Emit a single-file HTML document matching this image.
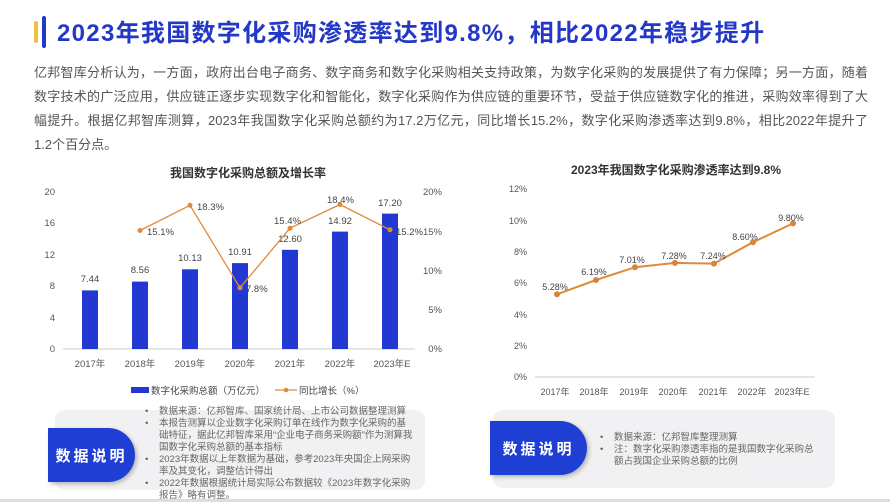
<!DOCTYPE html>
<html><head><meta charset="utf-8"><style>
*{margin:0;padding:0;box-sizing:border-box}
body{width:890px;height:502px;background:#fff;font-family:"Liberation Sans","Noto Sans CJK SC",sans-serif;position:relative;overflow:hidden}
.title{position:absolute;left:57px;top:13px;font-size:24px;font-weight:bold;color:#2338c6;white-space:nowrap;letter-spacing:1.3px}
.bar1{position:absolute;left:34px;top:21px;width:4px;height:22px;background:#f0c040;border-radius:2px}
.bar2{position:absolute;left:42px;top:16px;width:4px;height:32px;background:#2338c6;border-radius:2px}
.para{position:absolute;left:34px;top:61px;width:834px;font-size:13px;line-height:24px;color:#555}
.para div{text-align:justify;text-align-last:justify;white-space:nowrap}
.para div.last{text-align-last:left}
.grey{position:absolute;background:#f1f1f3;border-radius:10px}
.tab{position:absolute;background:#1f3fd4;color:#fff;font-weight:bold;font-size:15px;letter-spacing:3px;display:flex;align-items:center;justify-content:center;border-radius:0 28px 28px 0;box-shadow:2px 2px 4px rgba(0,0,0,.25)}
.notes{position:absolute;font-size:9.5px;line-height:12px;color:#666}
.notes div{padding-left:14px;text-indent:-14px}
.notes div:before{content:"•";display:inline-block;width:14px;text-indent:0}
</style></head><body>
<div class="bar1"></div><div class="bar2"></div>
<div class="title">2023年我国数字化采购渗透率达到9.8%，相比2022年稳步提升</div>
<div class="para">
<div>亿邦智库分析认为，一方面，政府出台电子商务、数字商务和数字化采购相关支持政策，为数字化采购的发展提供了有力保障；另一方面，随着</div>
<div>数字技术的广泛应用，供应链正逐步实现数字化和智能化，数字化采购作为供应链的重要环节，受益于供应链数字化的推进，采购效率得到了大</div>
<div>幅提升。根据亿邦智库测算，2023年我国数字化采购总额约为17.2万亿元，同比增长15.2%，数字化采购渗透率达到9.8%，相比2022年提升了</div>
<div class="last">1.2个百分点。</div>
</div>

<svg style="position:absolute;left:0;top:0" width="890" height="502" font-family="Liberation Sans, Noto Sans CJK SC, sans-serif">
<text x="248" y="177" font-size="12" font-weight="bold" fill="#333" text-anchor="middle">我国数字化采购总额及增长率</text>
<g font-size="9.5" fill="#555" text-anchor="end">
<text x="55" y="352">0</text><text x="55" y="321">4</text><text x="55" y="289">8</text><text x="55" y="258">12</text><text x="55" y="226">16</text><text x="55" y="195">20</text>
</g>
<g font-size="9.5" fill="#555" text-anchor="end">
<text x="442" y="352">0%</text><text x="442" y="313">5%</text><text x="442" y="274">10%</text><text x="442" y="235">15%</text><text x="442" y="195">20%</text>
</g>
<line x1="63" y1="349" x2="415" y2="349" stroke="#ccc"/>
<g fill="#2338d0">
<rect x="82" y="290.4" width="16" height="58.6"/>
<rect x="132" y="281.6" width="16" height="67.4"/>
<rect x="182" y="269.3" width="16" height="79.7"/>
<rect x="232" y="263.1" width="16" height="85.9"/>
<rect x="282" y="249.8" width="16" height="99.2"/>
<rect x="332" y="231.6" width="16" height="117.4"/>
<rect x="382" y="213.6" width="16" height="135.4"/>
</g>
<g font-size="9.5" fill="#444" text-anchor="middle">
<text x="90" y="282">7.44</text><text x="140" y="273">8.56</text><text x="190" y="261">10.13</text><text x="240" y="255">10.91</text><text x="290" y="242">12.60</text><text x="340" y="224">14.92</text><text x="390" y="206">17.20</text>
</g>
<polyline points="140,230.5 190,205.3 240,287.8 290,228.2 340,204.5 390,229.8" fill="none" stroke="#e08a3c" stroke-width="1.3"/>
<g fill="#e08a3c"><circle cx="140" cy="230.5" r="2.5"/><circle cx="190" cy="205.3" r="2.5"/><circle cx="240" cy="287.8" r="2.5"/><circle cx="290" cy="228.2" r="2.5"/><circle cx="340" cy="204.5" r="2.5"/><circle cx="390" cy="229.8" r="2.5"/></g>
<g font-size="9.5" fill="#444">
<text x="147" y="235">15.1%</text><text x="197" y="210">18.3%</text><text x="246" y="292">7.8%</text><text x="274" y="224">15.4%</text><text x="327" y="203">18.4%</text><text x="396" y="235">15.2%</text>
</g>
<g font-size="9.5" fill="#555" text-anchor="middle">
<text x="90" y="367">2017年</text><text x="140" y="367">2018年</text><text x="190" y="367">2019年</text><text x="240" y="367">2020年</text><text x="290" y="367">2021年</text><text x="340" y="367">2022年</text><text x="392" y="367">2023年E</text>
</g>
<rect x="131" y="387" width="18" height="6" fill="#2338d0"/>
<text x="151" y="394" font-size="9.5" fill="#444">数字化采购总额（万亿元）</text>
<line x1="275" y1="390" x2="297" y2="390" stroke="#e08a3c" stroke-width="1.3"/><circle cx="286" cy="390" r="2.3" fill="#e08a3c"/>
<text x="299" y="394" font-size="9.5" fill="#444">同比增长（%）</text>

<text x="676" y="174" font-size="12" font-weight="bold" fill="#333" text-anchor="middle">2023年我国数字化采购渗透率达到9.8%</text>
<g font-size="9" fill="#555" text-anchor="end">
<text x="527" y="380">0%</text><text x="527" y="349">2%</text><text x="527" y="318">4%</text><text x="527" y="286">6%</text><text x="527" y="255">8%</text><text x="527" y="224">10%</text><text x="527" y="192">12%</text>
</g>
<line x1="535" y1="377" x2="815" y2="377" stroke="#ccc"/>
<polyline points="557,294.3 596,280 635,267.2 675,262.9 714,263.6 753,242.2 793,223.4" fill="none" stroke="#e08a3c" stroke-width="2"/>
<g fill="#d98437"><circle cx="557" cy="294.3" r="3"/><circle cx="596" cy="280" r="3"/><circle cx="635" cy="267.2" r="3"/><circle cx="675" cy="262.9" r="3"/><circle cx="714" cy="263.6" r="3"/><circle cx="753" cy="242.2" r="3"/><circle cx="793" cy="223.4" r="3"/></g>
<g font-size="9" fill="#444" text-anchor="middle">
<text x="555" y="290">5.28%</text><text x="594" y="275">6.19%</text><text x="632" y="263">7.01%</text><text x="674" y="259">7.28%</text><text x="713" y="259">7.24%</text><text x="745" y="240">8.60%</text><text x="791" y="221">9.80%</text>
</g>
<g font-size="9" fill="#555" text-anchor="middle">
<text x="555" y="395">2017年</text><text x="594" y="395">2018年</text><text x="634" y="395">2019年</text><text x="673" y="395">2020年</text><text x="713" y="395">2021年</text><text x="752" y="395">2022年</text><text x="792" y="395">2023年E</text>
</g>
</svg>

<div class="grey" style="left:55px;top:410px;width:370px;height:80px"></div>
<div class="tab" style="left:48px;top:428px;width:87px;height:54px">数据说明</div>
<div class="notes" style="left:145px;top:406px;width:270px">
<div>数据来源：亿邦智库、国家统计局、上市公司数据整理测算</div>
<div>本报告测算以企业数字化采购订单在线作为数字化采购的基础特征，据此亿邦智库采用“企业电子商务采购额”作为测算我国数字化采购总额的基本指标</div>
<div>2023年数据以上年数据为基础，参考2023年央国企上网采购率及其变化，调整估计得出</div>
<div>2022年数据根据统计局实际公布数据较《2023年数字化采购报告》略有调整。</div>
</div>
<div class="grey" style="left:493px;top:410px;width:342px;height:78px"></div>
<div class="tab" style="left:490px;top:421px;width:97px;height:54px">数据说明</div>
<div class="notes" style="left:600px;top:432px;width:215px">
<div>数据来源：亿邦智库整理测算</div>
<div>注：数字化采购渗透率指的是我国数字化采购总额占我国企业采购总额的比例</div>
</div>
<div style="position:absolute;left:0;top:499px;width:890px;height:3px;background:#ddd"></div>
</body></html>
